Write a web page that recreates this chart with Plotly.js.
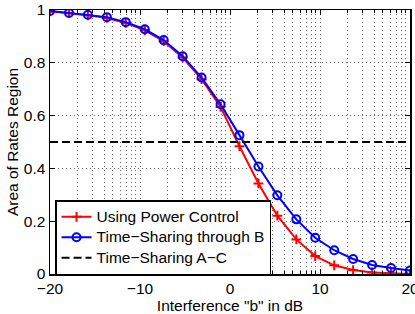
<!DOCTYPE html>
<html>
<head>
<meta charset="utf-8">
<script src="https://cdn.plot.ly/plotly-3.0.1.min.js"></script>
<style>html,body{margin:0;padding:0;background:#fff;}#chart{width:415px;height:314px;}</style>
</head>
<body>
<div id="chart"></div>
<script>
const xB = [-20, -17.89, -15.79, -13.68, -11.58, -9.47, -7.37, -5.26, -3.16, -1.05, 1.05, 3.16, 5.26, 7.37, 9.47, 11.58, 13.68, 15.79, 17.89, 20];
const powerControl = [0.995, 0.988, 0.980, 0.970, 0.951, 0.923, 0.882, 0.820, 0.738, 0.633, 0.484, 0.343, 0.221, 0.131, 0.068, 0.033, 0.015, 0.006, 0.002, 0.0];
const timeSharingB = [0.996, 0.989, 0.982, 0.973, 0.954, 0.927, 0.886, 0.825, 0.744, 0.643, 0.526, 0.407, 0.298, 0.207, 0.137, 0.090, 0.057, 0.034, 0.023, 0.013];
const xAC = [-20, 20];
const timeSharingAC = [0.5, 0.5];
const seriesNames = ["Using Power Control", "Time\u2212Sharing through B", "Time\u2212Sharing A\u2212C"];
const xTicks = [-20, -10, 0, 10, 20];
const yTicks = [0, 0.2, 0.4, 0.6, 0.8, 1];
const yTickText = ['0', '0.2', '0.4', '0.6', '0.8', '1'];

// MATLAB-style log-pattern minor grid inside each 10 dB step
const minorX = [];
[-20, -10, 0, 10].forEach(d => { for (let k = 2; k <= 9; k++) minorX.push(d + 10 * Math.log10(k)); });

const FAM = '"Liberation Sans", Arial, Helvetica, sans-serif';
const font = {family: FAM, size: 15.5, color: '#000'};
const legName = s => '<span style="font-size:15.5px">' + s + '</span>';

const traces = [
  {x: xB, y: powerControl, name: legName(seriesNames[0]), type: 'scatter', mode: 'lines+markers',
   line: {color: '#ff0000', width: 2},
   marker: {symbol: 'cross-thin', size: 7, color: '#ff0000', line: {color: '#ff0000', width: 2}}},
  {x: xB, y: timeSharingB, name: legName(seriesNames[1]), type: 'scatter', mode: 'lines+markers',
   line: {color: '#0000ff', width: 2},
   marker: {symbol: 'circle-open', size: 8, color: '#0000ff', line: {color: '#0000ff', width: 2}}},
  {x: xAC, y: timeSharingAC, name: legName(seriesNames[2]), type: 'scatter', mode: 'lines',
   line: {color: '#000', width: 2, dash: '8px,4px'}}
];

const gridDash = '1px,3px';
const gridColor = '#666';

const layout = {
  width: 415, height: 314,
  margin: {l: 50, r: 5, t: 9.5, b: 40, autoexpand: false},
  paper_bgcolor: '#fff', plot_bgcolor: '#fff',
  font: font,
  showlegend: true,
  legend: {x: 0.014, y: 0.28, xanchor: 'left', yanchor: 'top', bgcolor: '#fff',
           bordercolor: '#000', borderwidth: 1.5, font: {family: FAM, size: 13.4, color: '#000'}},
  xaxis: {range: [-20, 20], tickmode: 'array', tickvals: xTicks, ticks: 'inside', ticklen: 5,
          tickcolor: '#000', tickwidth: 1, showline: true, linecolor: '#000', linewidth: 1.5,
          mirror: 'ticks', zeroline: false, showgrid: true, gridcolor: gridColor, griddash: gridDash, gridwidth: 1,
          ticklabeloverflow: 'allow', automargin: true,
          minor: {tickmode: 'array', tickvals: minorX, ticks: 'inside', ticklen: 3, tickcolor: '#000',
                  showgrid: true, gridcolor: gridColor, griddash: gridDash, gridwidth: 1},
          title: {text: 'Interference "b" in dB', font: font, standoff: 7}, tickfont: font},
  yaxis: {range: [0, 1], tickmode: 'array', tickvals: yTicks, ticktext: yTickText,
          ticks: 'inside', ticklen: 5, tickcolor: '#000', tickwidth: 1,
          showline: true, linecolor: '#000', linewidth: 1.5, mirror: 'ticks', zeroline: false,
          showgrid: true, gridcolor: gridColor, griddash: gridDash, gridwidth: 1,
          ticklabeloverflow: 'allow', automargin: true,
          title: {text: 'Area of Rates Region', font: font, standoff: 1}, tickfont: font}
};

Plotly.newPlot('chart', traces, layout, {displayModeBar: false, staticPlot: true});
</script>
</body>
</html>
